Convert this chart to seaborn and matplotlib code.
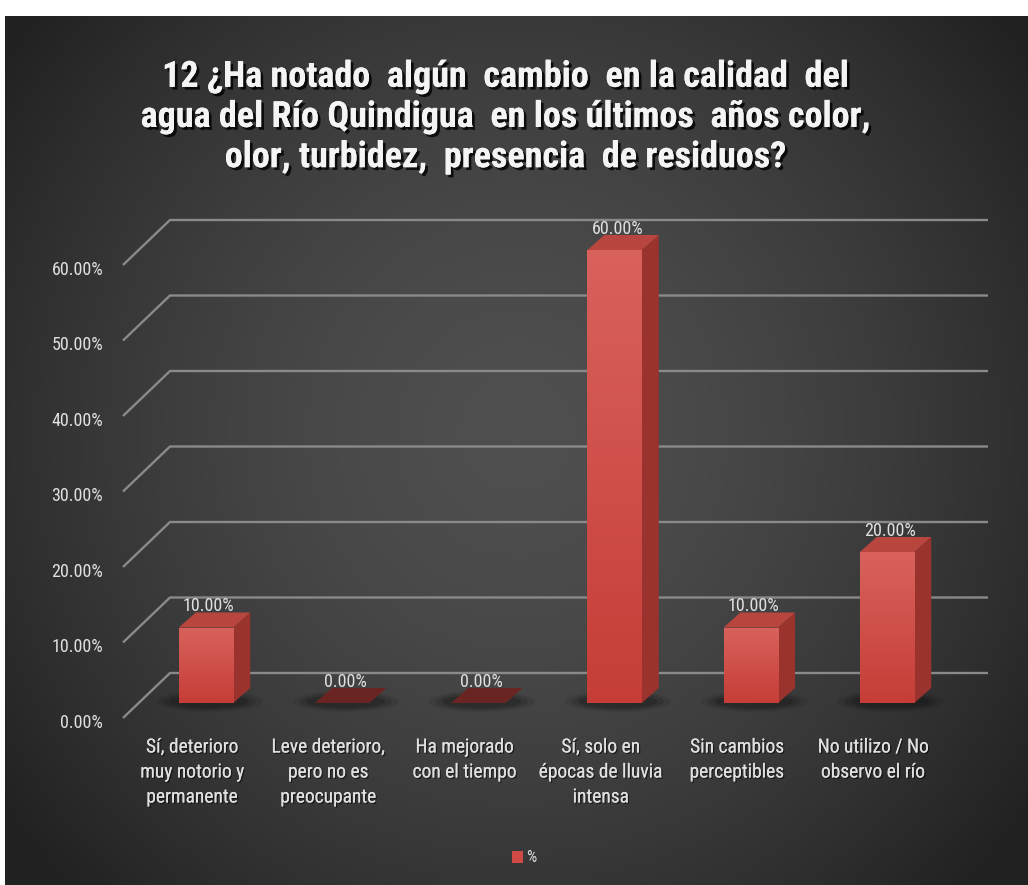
import numpy as np
import matplotlib
matplotlib.use("Agg")
import matplotlib.pyplot as plt
import matplotlib.patheffects as pe
from matplotlib import font_manager
from matplotlib.patches import Polygon, Ellipse, Rectangle
from matplotlib.colors import LinearSegmentedColormap
import pandas as pd
import seaborn as sns

# ---- data -------------------------------------------------------------
categories = [
    "Sí, deterioro\nmuy notorio y\npermanente",
    "Leve deterioro,\npero no es\npreocupante",
    "Ha mejorado\ncon el tiempo",
    "Sí, solo en\népocas de lluvia\nintensa",
    "Sin cambios\nperceptibles",
    "No utilizo / No\nobservo el río",
]
values = [10.0, 0.0, 0.0, 60.0, 10.0, 20.0]
value_labels = ["10.00%", "0.00%", "0.00%", "60.00%", "10.00%", "20.00%"]
y_ticks = [0, 10, 20, 30, 40, 50, 60]
y_tick_labels = ["0.00%", "10.00%", "20.00%", "30.00%", "40.00%", "50.00%", "60.00%"]
series_name = "%"
title = ("12 ¿Ha notado  algún  cambio  en la calidad  del\n"
         "agua del Río Quindigua  en los últimos  años color,\n"
         "olor, turbidez,  presencia  de residuos?")

# ---- fonts ------------------------------------------------------------
sns.set_theme(style="white")
installed = {f.name for f in font_manager.fontManager.ttflist}
narrow = next((f for f in ["Liberation Sans Narrow", "Roboto Condensed", "Open Sans", "DejaVu Sans"]
               if f in installed), "DejaVu Sans")
plt.rcParams["font.family"] = [narrow, "DejaVu Sans"]

# ---- colours ----------------------------------------------------------
front_color = "#cf4a44"
side_color = "#9a322d"
top_color = "#b8463f"
zero_color = "#6a2522"
grid_color = "#8a8a8a"
text_color = "#e0e0e0"

# ---- figure & background ---------------------------------------------
W, H = 1028, 885
fig = plt.figure(figsize=(W / 100, H / 100), dpi=100, facecolor="white")

bg = fig.add_axes([5 / W, 0, 1 - 5 / W, 1 - 16 / H])
gx, gy = np.meshgrid(np.linspace(0, 1, 400), np.linspace(0, 1, 400))
r = np.sqrt(((gx - 0.50) / 0.62) ** 2 + ((gy - 0.48) / 0.75) ** 2)
shade = np.clip(0.31 - 0.18 * r ** 1.6, 0.13, 0.31)
bg.imshow(np.dstack([shade] * 3), extent=[0, 1, 0, 1], aspect="auto", origin="upper")
bg.axis("off")

# ---- main axes (data units laid out over the whole figure) ------------
ax = fig.add_axes([0, 0, 1, 1])
ax.set_facecolor("none")

df = pd.DataFrame({"categoria": categories, "valor": values})
sns.barplot(data=df, x="categoria", y="valor", color=front_color, saturation=1,
            width=0.40, ax=ax, zorder=4, errorbar=None, linewidth=0, edgecolor="none")

px_x = 136.2          # pixels per category step
px_y = 7.55           # pixels per percentage point
x_lim = (-206 / px_x, (W - 206) / px_x)
y_lim = ((703 - H) / px_y, 703 / px_y)

# depth of the bars (towards the back-right)
ddx, ddy = 17 / px_x, 15 / px_y
# perspective walls
wall_front_x, wall_back_x, wall_right_x = (123 - 206) / px_x, (170 - 206) / px_x, (988 - 206) / px_x
front_off, back_off = -15 / px_y, 30 / px_y

for v in y_ticks:
    ax.plot([wall_front_x, wall_back_x, wall_right_x],
            [v + front_off, v + back_off, v + back_off],
            color=grid_color, lw=1.7, zorder=1, solid_capstyle="butt")

for v, lab in zip(y_ticks, y_tick_labels):
    ax.text(-0.756, v - 2.6, lab, ha="right", va="center", fontsize=13, color=text_color)

# vertical shading for the front faces
front_cmap = LinearSegmentedColormap.from_list("front", ["#c63d37", "#d9625c"])
grad = np.linspace(0, 1, 256).reshape(-1, 1)

for patch, v, lab in zip(ax.patches, values, value_labels):
    x0 = patch.get_x()
    w = patch.get_width()
    x1 = x0 + w
    h = patch.get_height()
    cx = x0 + w / 2

    # soft floor shadow
    for sw, sh, a in [(0.78, 2.8, 0.08), (0.68, 2.3, 0.12), (0.58, 1.8, 0.16)]:
        ax.add_patch(Ellipse((cx + ddx * 0.2, ddy * 0.1), sw, sh,
                             facecolor="black", edgecolor="none", alpha=a, zorder=2))

    if h > 0:
        im = ax.imshow(grad, extent=[x0, x1, 0, h], origin="lower", cmap=front_cmap,
                       aspect="auto", zorder=4.1)
        im.set_clip_path(patch)
        ax.add_patch(Polygon([(x1, 0), (x1 + ddx, ddy), (x1 + ddx, h + ddy), (x1, h)],
                             closed=True, facecolor=side_color, edgecolor="none", zorder=4))
        ax.add_patch(Polygon([(x0, h), (x0 + ddx, h + ddy), (x1 + ddx, h + ddy), (x1, h)],
                             closed=True, facecolor=top_color, edgecolor="none", zorder=4))
    else:
        ax.add_patch(Polygon([(x0, 0), (x0 + ddx, ddy), (x1 + ddx, ddy), (x1, 0)],
                             closed=True, facecolor=zero_color, edgecolor="none", zorder=4))

    ax.text(cx + 0.02, h + 2.8, lab, ha="center", va="center", fontsize=13,
            color=text_color, zorder=6)

for i, cat in enumerate(categories):
    ax.text(i - 0.1, -4.7, cat, ha="center", va="top", fontsize=14, linespacing=1.5,
            color=text_color,
            path_effects=[pe.withSimplePatchShadow(offset=(1, -1), shadow_rgbFace="black", alpha=0.5),
                          pe.Normal()])

ax.set_xlim(*x_lim)
ax.set_ylim(*y_lim)
ax.axis("off")

# ---- legend -------------------------------------------------------------
handle = Rectangle((0, 0), 1, 1, facecolor=front_color, edgecolor="none")
fig.legend([handle], [series_name], loc="center", bbox_to_anchor=(524 / W, 1 - 858 / H),
           frameon=False, handlelength=0.7, handleheight=0.8, handletextpad=0.2,
           fontsize=11.5, labelcolor=text_color)

# ---- title --------------------------------------------------------------
fig.text(506 / W, 1 - 117 / H, title, ha="center", va="center", fontsize=26,
         fontweight="bold", color="#f4f4f4", linespacing=1.15,
         path_effects=[pe.withSimplePatchShadow(offset=(2, -2), shadow_rgbFace="black", alpha=0.8),
                       pe.Normal()])

fig.savefig("out.png", dpi=100, facecolor=fig.get_facecolor())
